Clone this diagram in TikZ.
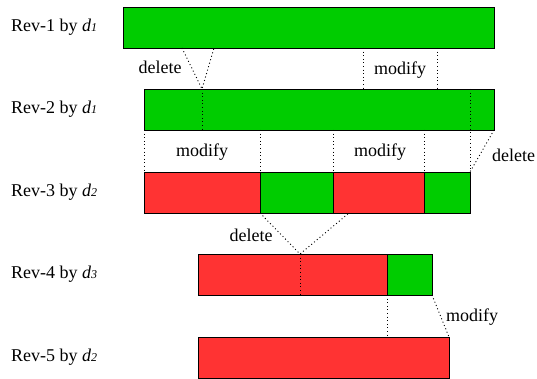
\documentclass[tikz,border=0pt]{standalone}
\usepackage{fontspec}
\setmainfont{Liberation Serif}
\usetikzlibrary{positioning}

\definecolor{oldgreen}{RGB}{0,204,0}
\definecolor{newred}{RGB}{255,51,51}

% author of a revision: italic d with a small index
\newcommand{\auth}[1]{\textit{d}{\fontsize{12}{12}\selectfont\itshape #1}}

\tikzset{
  bar/.style={draw=black,line width=0.8pt,inner sep=0pt,outer sep=0pt,anchor=north west,minimum height=41pt},
  kept/.style={bar,fill=oldgreen},
  changed/.style={bar,fill=newred},
  trace/.style={dash pattern=on 1pt off 2.6pt,line width=0.9pt},
  revlabel/.style={anchor=west,inner sep=0pt,font=\fontsize{18}{20}\selectfont},
  oplabel/.style={inner sep=1pt,font=\fontsize{18}{20}\selectfont}
}

\begin{document}
\begin{tikzpicture}[x=1pt,y=-1pt]
  \useasboundingbox (0,0) rectangle (537,379);
  \coordinate (margin) at (11,0);

  % revisions
  \node[kept,minimum width=371pt] (r1) at (123,7) {};
  \node[kept,minimum width=350pt] (r2) at (144,89) {};
  \node[changed,minimum width=116pt] (r3a) at (144,172) {};
  \node[kept,minimum width=73pt] (r3b) at (r3a.north east) {};
  \node[changed,minimum width=91pt] (r3c) at (r3b.north east) {};
  \node[kept,minimum width=46pt] (r3d) at (r3c.north east) {};
  \node[changed,minimum width=189pt] (r4a) at (198,254) {};
  \node[kept,minimum width=45pt] (r4b) at (r4a.north east) {};
  \node[changed,minimum width=251pt] (r5) at (198,337) {};

  \node[revlabel] (l1) at (r1.west -| margin) {Rev-1 by \auth{1}};
  \node[revlabel] (l2) at (r2.west -| margin) {Rev-2 by \auth{1}};
  \node[revlabel] (l3) at (r3a.west -| margin) {Rev-3 by \auth{2}};
  \node[revlabel] (l4) at (r4a.west -| margin) {Rev-4 by \auth{3}};
  \node[revlabel] (l5) at (r5.west -| margin) {Rev-5 by \auth{2}};

  % rev 1 -> rev 2
  \coordinate (del1a) at (182,48);
  \coordinate (del1b) at (214,48);
  \coordinate (del1) at (202,89);
  \coordinate (mod1a) at (363,48);
  \coordinate (mod1b) at (437,48);
  \draw[trace] (del1a) -- (del1) -- (del1b);
  \draw[trace] (del1) -- (del1 |- r2.south);
  \draw[trace] (mod1a) -- (mod1a |- r2.north);
  \draw[trace] (mod1b) -- (mod1b |- r2.north);
  \node[oplabel] (op1) at (160,67) {delete};
  \node[oplabel] (op2) at (400,70) {modify};

  % rev 2 -> rev 3
  \draw[trace] (r2.south west) -- (r3a.north west);
  \draw[trace] (r3b.north west |- r2.south) -- (r3b.north west);
  \draw[trace] (r3c.north west |- r2.south) -- (r3c.north west);
  \draw[trace] (r3d.north west |- r2.south) -- (r3d.north west);
  \draw[trace] (r3d.north east |- r2.north) -- (r3d.north east);
  \draw[trace] (r2.south east) -- (r3d.north east);
  \node[oplabel] (op3) at (202,152) {modify};
  \node[oplabel] (op4) at (380,152) {modify};
  \node[oplabel,anchor=west] (op5) at (491,155) {delete};

  % rev 3 -> rev 4
  \coordinate (del3) at (300,254);
  \coordinate (del3b) at (349,213);
  \draw[trace] (r3b.south west) -- (del3) -- (del3b);
  \draw[trace] (del3) -- (del3 |- r4a.south);
  \node[oplabel] (op6) at (251,235) {delete};

  % rev 4 -> rev 5
  \draw[trace] (r4b.south west) -- (r4b.south west |- r5.north);
  \draw[trace] (r4b.south east) -- (r5.north east);
  \node[oplabel,anchor=west] (op7) at (445,317) {modify};
\end{tikzpicture}
\end{document}
